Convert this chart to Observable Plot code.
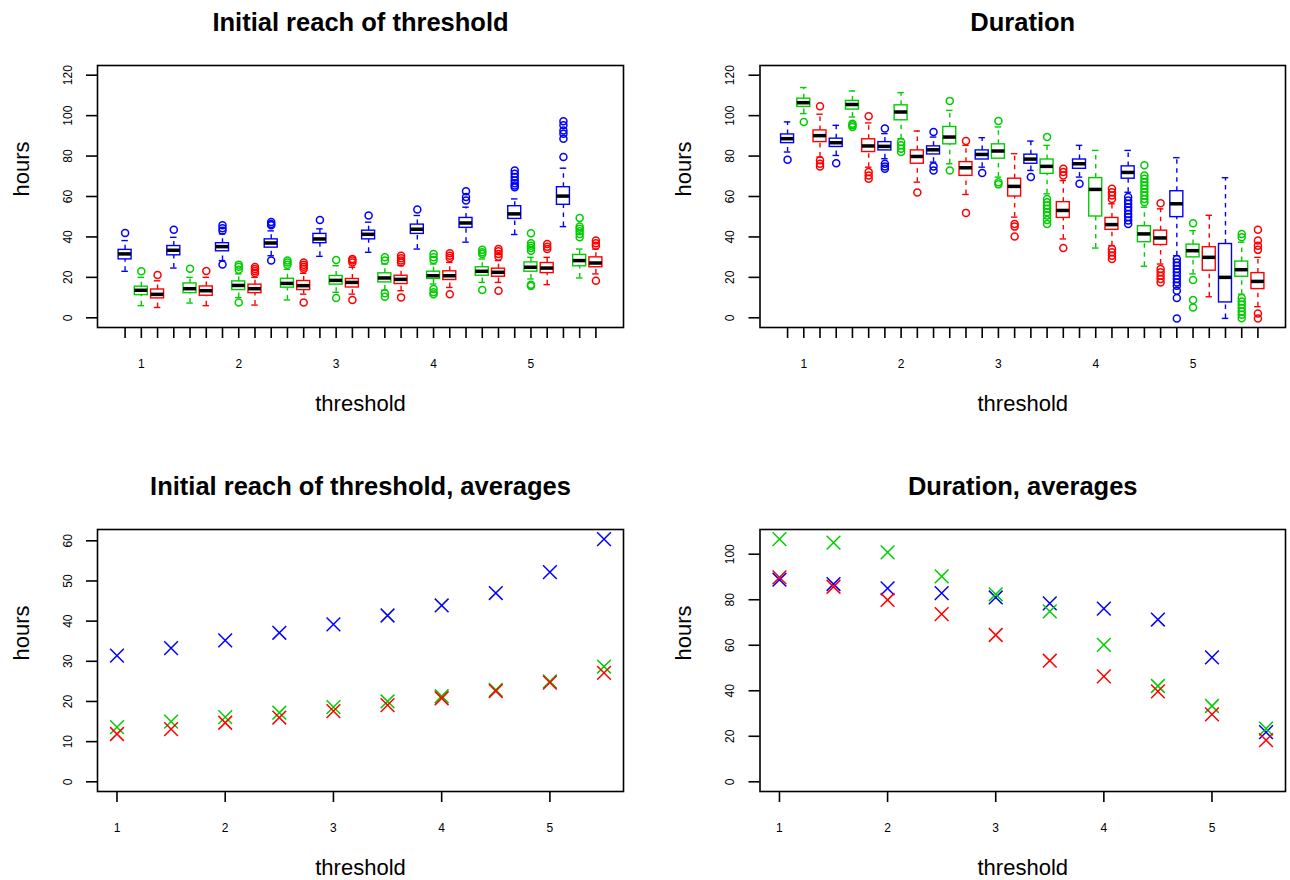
<!DOCTYPE html>
<html><head><meta charset="utf-8">
<script src="https://cdn.jsdelivr.net/npm/d3@7"></script>
<script src="https://cdn.jsdelivr.net/npm/@observablehq/plot@0.6"></script>
<style>
html,body{margin:0;padding:0;background:#fff;overflow:hidden;}
#wrap{position:relative;width:1290px;height:880px;background:#fff;}
.panel{position:absolute;}
</style></head><body><div id="wrap"></div>
<script>
// ---------- data ----------
const thresholds = [1, 1.5, 2, 2.5, 3, 3.5, 4, 4.5, 5, 5.5];
const groupColors = ["#0000FF", "#00CD00", "#FF0000"]; // box order within each threshold
const boxYTicks = [0, 20, 40, 60, 80, 100, 120];
const reachMeanYTicks = [0, 10, 20, 30, 40, 50, 60];
const durMeanYTicks = [0, 20, 40, 60, 80, 100];
const meanXTicks = [1, 2, 3, 4, 5];

// Initial reach of threshold: 30 boxes (blue, green, red per threshold)
const reachLo  = [23.0, 6.0, 5.1, 24.6, 7.3, 6.0, 28.3, 10.0, 6.3, 30.7, 8.8, 11.7, 30.4, 12.6, 11.7, 32.4, 13.7, 13.4, 34.0, 16.7, 15.0, 37.4, 17.5, 17.5, 41.2, 19.2, 16.4, 45.1, 19.7, 21.7];
const reachQ1  = [28.9, 11.2, 9.6, 30.9, 12.2, 10.9, 32.9, 13.7, 12.2, 34.7, 14.9, 13.7, 36.9, 16.4, 15.0, 38.8, 17.5, 16.7, 41.5, 19.2, 18.7, 44.5, 20.8, 20.3, 48.9, 22.8, 22.1, 55.9, 25.5, 25.0];
const reachMed = [31.6, 13.6, 11.6, 33.4, 14.4, 13.4, 35.2, 16.0, 14.4, 37.0, 17.0, 15.9, 39.0, 18.5, 17.5, 41.3, 19.7, 19.0, 43.8, 20.8, 20.8, 46.9, 23.0, 22.5, 51.4, 25.0, 24.6, 60.2, 28.3, 27.1];
const reachQ3  = [33.6, 15.4, 14.0, 35.5, 17.0, 15.5, 36.9, 18.0, 16.4, 38.8, 19.3, 18.2, 41.5, 20.7, 19.2, 43.1, 22.0, 20.8, 46.1, 22.8, 23.0, 49.4, 25.0, 24.3, 55.2, 27.4, 27.1, 64.6, 31.1, 29.9];
const reachHi  = [38.2, 20.0, 18.3, 39.8, 20.0, 20.0, 41.5, 21.7, 20.0, 43.0, 24.0, 22.0, 44.0, 25.8, 25.0, 47.3, 26.6, 25.8, 50.6, 26.6, 27.4, 54.7, 29.1, 28.3, 58.8, 29.9, 29.9, 74.0, 34.0, 34.0];
const reachOut = [
  [42.0], [23.0], [21.2],
  [43.6], [24.3], [23.1],
  [45.8, 44.3, 43.1, 26.4], [26.3, 25.3, 23.8, 7.6], [25.1, 24.1, 23.1, 22.1],
  [47.4, 46.4, 45.8, 28.4], [28.3, 27.3, 26.3], [27.4, 26.3, 25.3, 24.3, 7.6],
  [48.4], [28.6, 9.8], [29.1, 28.3, 27.3, 8.8],
  [50.6], [29.9, 28.3, 12.1, 10.4], [30.7, 29.4, 28.3, 27.3, 10.1],
  [53.6], [31.6, 29.9, 28.6, 14.2, 12.6, 11.7], [31.9, 30.7, 29.6, 11.7],
  [62.6, 59.7, 58.0], [33.6, 32.4, 31.6, 13.7], [34.0, 32.9, 31.6, 30.2, 13.4],
  [72.9, 71.2, 69.6, 67.9, 66.6, 65.5, 64.6], [41.8, 36.9, 35.7, 34.5, 33.2, 16.4, 15.7], [36.5, 35.2, 34.0],
  [97.2, 95.2, 92.7, 91.1, 88.6, 79.5], [49.4, 45.1, 44.0, 42.8, 41.5, 39.8], [38.2, 36.9, 35.7, 18.3]
];

// Duration: 30 boxes
const durLo  = [82.0, 101.0, 79.5, 80.3, 99.3, 74.5, 78.7, 88.6, 67.1, 77.0, 76.2, 61.0, 74.5, 69.6, 49.8, 72.9, 61.3, 39.0, 69.6, 34.5, 35.7, 62.1, 25.5, 26.6, 30.7, 21.7, 10.4, -0.3, 11.7, 5.5];
const durQ1  = [86.4, 104.3, 86.9, 84.5, 103.0, 82.0, 82.8, 97.7, 76.2, 80.8, 85.8, 70.2, 78.3, 78.7, 60.0, 76.2, 71.2, 49.4, 73.7, 50.1, 43.5, 68.8, 37.4, 36.0, 49.8, 29.9, 23.3, 7.6, 20.3, 14.2];
const durMed = [88.6, 106.4, 90.1, 86.6, 105.5, 85.0, 84.8, 101.8, 79.8, 83.1, 89.4, 74.2, 80.8, 82.5, 65.0, 78.5, 74.9, 53.1, 76.2, 63.5, 46.1, 71.9, 41.5, 39.5, 56.4, 33.2, 29.9, 20.0, 23.8, 18.0];
const durQ3  = [90.7, 108.4, 92.7, 88.6, 107.3, 88.3, 86.9, 105.1, 82.8, 84.8, 94.4, 77.0, 82.8, 85.8, 68.8, 80.7, 78.3, 57.2, 78.3, 69.1, 49.4, 74.9, 45.3, 43.1, 62.6, 36.2, 34.9, 36.5, 27.8, 22.1];
const durHi  = [96.9, 113.9, 100.7, 95.2, 112.2, 96.4, 91.1, 111.4, 92.4, 89.4, 102.6, 85.3, 89.1, 94.4, 81.2, 87.4, 85.3, 67.9, 85.3, 82.8, 56.4, 82.8, 54.7, 53.9, 79.2, 43.1, 50.7, 69.3, 37.4, 29.9];
const durOut = [
  [78.2], [96.9], [104.6, 77.9, 76.2, 74.9],
  [76.5], [96.0, 95.2, 94.4], [99.7, 72.1, 70.4, 68.8],
  [93.6, 76.2, 74.9, 73.7], [86.9, 85.3, 83.6, 82.0], [62.0],
  [91.9, 74.9, 72.9], [107.3, 72.9], [87.4, 51.9],
  [71.6], [97.4, 67.1, 66.0], [46.4, 45.1, 40.2],
  [69.6], [89.4, 58.8, 57.2, 55.5, 53.9, 52.2, 50.6, 48.4, 46.4], [73.7, 72.1, 70.4, 34.5],
  [66.3], [], [63.8, 62.1, 60.5, 58.8, 34.0, 32.4, 30.7, 29.1],
  [59.7, 58.0, 56.4, 54.7, 53.1, 51.4, 49.8, 48.1, 46.4], [75.4, 70.4, 68.8, 67.1, 65.5, 63.8, 62.1, 60.5, 58.8, 57.2], [56.7, 24.1, 22.5, 20.8, 19.2, 17.5],
  [29.1, 27.4, 25.8, 24.1, 22.5, 20.8, 19.2, 17.5, 15.9, 13.4, 9.8, -0.3], [46.8, 18.7, 8.8, 5.1], [],
  [], [41.5, 39.8, 9.8, 8.1, 6.4, 4.8, 3.1, 1.5, -0.2], [43.6, 38.2, 35.7, 33.6, 2.1, -0.3]
];

// Averages
const reachMeanBlue  = [31.4, 33.3, 35.2, 37.1, 39.2, 41.4, 43.9, 47.0, 52.2, 60.4];
const reachMeanGreen = [13.6, 15.0, 16.1, 17.2, 18.6, 20.0, 21.3, 22.9, 25.0, 28.7];
const reachMeanRed   = [11.9, 13.1, 14.7, 16.0, 17.6, 19.1, 20.8, 22.6, 24.7, 27.1];
const durMeanBlue    = [88.8, 86.9, 85.0, 82.9, 81.0, 78.4, 76.1, 71.3, 54.7, 21.8];
const durMeanGreen   = [106.6, 105.1, 100.8, 90.3, 82.4, 74.9, 60.2, 42.1, 33.3, 23.4];
const durMeanRed     = [89.8, 85.7, 79.9, 73.7, 64.5, 53.2, 46.3, 39.7, 29.6, 18.3];

// ---------- helpers ----------
const FONT = '"Liberation Sans", Arial, Helvetica, sans-serif';
const H = 416, MT = 65, MB = 89;
const TICK_FONT = 12;

function boxTable(lo, q1, med, q3, hi) {
  return lo.map((d, i) => ({pos: i + 1, color: groupColors[i % 3], lo: d, q1: q1[i], med: med[i], q3: q3[i], hi: hi[i]}));
}
function outlierTable(out) {
  return out.flatMap((arr, i) => arr.map(v => ({pos: i + 1, color: groupColors[i % 3], v})));
}
function boxTickLabel(d) {
  const k = (d - 2) / 3;
  return Number.isInteger(k) && Number.isInteger(thresholds[k]) ? String(thresholds[k]) : "";
}
function padDomain(lo, hi) { const e = (hi - lo) * 0.04; return [lo - e, hi + e]; }

function commonText(title) {
  return [
    Plot.text([title], {text: d => d, frameAnchor: "top", dy: -35, lineAnchor: "bottom", fontSize: 25.5, fontWeight: "bold"}),
    Plot.text(["hours"], {text: d => d, frameAnchor: "left", rotate: -90, dx: -69, lineAnchor: "bottom", fontSize: 22}),
    Plot.text(["threshold"], {text: d => d, frameAnchor: "bottom", dy: 83, lineAnchor: "bottom", fontSize: 22})
  ];
}

function boxPanel({title, box, outs, marginLeft, marginRight}) {
  const n = box.length;
  const half = 0.4, staple = 0.2;
  return Plot.plot({
    width: 645, height: H, marginLeft, marginRight, marginTop: MT, marginBottom: MB,
    style: {fontFamily: FONT, fontSize: TICK_FONT + "px", background: "white", overflow: "visible", color: "black"},
    x: {domain: padDomain(0.5, n + 0.5), axis: null},
    y: {domain: padDomain(0, 120), axis: null},
    color: {type: "identity"},
    marks: [
      Plot.ruleX(box, {x: "pos", y1: "q3", y2: "hi", stroke: "color", strokeWidth: 1.4, strokeDasharray: "4.5,4.5"}),
      Plot.ruleX(box, {x: "pos", y1: "lo", y2: "q1", stroke: "color", strokeWidth: 1.4, strokeDasharray: "4.5,4.5"}),
      Plot.ruleY(box, {y: "hi", x1: d => d.pos - staple, x2: d => d.pos + staple, stroke: "color", strokeWidth: 1.4}),
      Plot.ruleY(box, {y: "lo", x1: d => d.pos - staple, x2: d => d.pos + staple, stroke: "color", strokeWidth: 1.4}),
      Plot.rect(box, {x1: d => d.pos - half, x2: d => d.pos + half, y1: "q1", y2: "q3", fill: "white", stroke: "color", strokeWidth: 1.4}),
      Plot.ruleY(box, {y: "med", x1: d => d.pos - half, x2: d => d.pos + half, stroke: "black", strokeWidth: 3.5}),
      Plot.dot(outs, {x: "pos", y: "v", r: 3.5, stroke: "color", strokeWidth: 1.5, fill: "none"}),
      Plot.frame({stroke: "black", strokeWidth: 1.6}),
      Plot.axisX({ticks: d3.range(1, n + 1), tickSize: 11, tickPadding: 21, tickFormat: boxTickLabel, strokeWidth: 1.6, fontSize: TICK_FONT, label: null}),
      Plot.axisY({ticks: boxYTicks, tickSize: 11, tickPadding: 15, tickRotate: -90, textAnchor: "middle", lineAnchor: "bottom", tickFormat: d => String(d), strokeWidth: 1.6, fontSize: TICK_FONT, label: null}),
      ...commonText(title)
    ]
  });
}

function meanPanel({title, blue, green, red, yTicks, marginLeft, marginRight}) {
  const pts = [
    ...thresholds.map((t, k) => ({t, v: blue[k], color: groupColors[0]})),
    ...thresholds.map((t, k) => ({t, v: green[k], color: groupColors[1]})),
    ...thresholds.map((t, k) => ({t, v: red[k], color: groupColors[2]}))
  ];
  const ymax = d3.max(pts, d => d.v);
  return Plot.plot({
    width: 645, height: H, marginLeft, marginRight, marginTop: MT, marginBottom: MB,
    style: {fontFamily: FONT, fontSize: TICK_FONT + "px", background: "white", overflow: "visible", color: "black"},
    x: {domain: padDomain(d3.min(thresholds), d3.max(thresholds)), axis: null},
    y: {domain: padDomain(0, ymax), axis: null},
    color: {type: "identity"},
    marks: [
      Plot.dot(pts, {x: "t", y: "v", symbol: "times", r: 6.3, stroke: "color", strokeWidth: 1.5}),
      Plot.frame({stroke: "black", strokeWidth: 1.6}),
      Plot.axisX({ticks: meanXTicks, tickSize: 11, tickPadding: 21, tickFormat: d => String(d), strokeWidth: 1.6, fontSize: TICK_FONT, label: null}),
      Plot.axisY({ticks: yTicks, tickSize: 11, tickPadding: 15, tickRotate: -90, textAnchor: "middle", lineAnchor: "bottom", tickFormat: d => String(d), strokeWidth: 1.6, fontSize: TICK_FONT, label: null}),
      ...commonText(title)
    ]
  });
}

// ---------- layout ----------
const wrap = document.getElementById("wrap");
function place(node, left, top) {
  const div = document.createElement("div");
  div.className = "panel";
  div.style.left = left + "px";
  div.style.top = top + "px";
  div.appendChild(node);
  wrap.appendChild(div);
}

place(boxPanel({title: "Initial reach of threshold", box: boxTable(reachLo, reachQ1, reachMed, reachQ3, reachHi), outs: outlierTable(reachOut), marginLeft: 97, marginRight: 22}), 0, 0);
place(boxPanel({title: "Duration", box: boxTable(durLo, durQ1, durMed, durQ3, durHi), outs: outlierTable(durOut), marginLeft: 114.5, marginRight: 5}), 645, 0);
place(meanPanel({title: "Initial reach of threshold, averages", blue: reachMeanBlue, green: reachMeanGreen, red: reachMeanRed, yTicks: reachMeanYTicks, marginLeft: 97, marginRight: 22}), 0, 464);
place(meanPanel({title: "Duration, averages", blue: durMeanBlue, green: durMeanGreen, red: durMeanRed, yTicks: durMeanYTicks, marginLeft: 114.5, marginRight: 5}), 645, 464);
</script></body></html>
